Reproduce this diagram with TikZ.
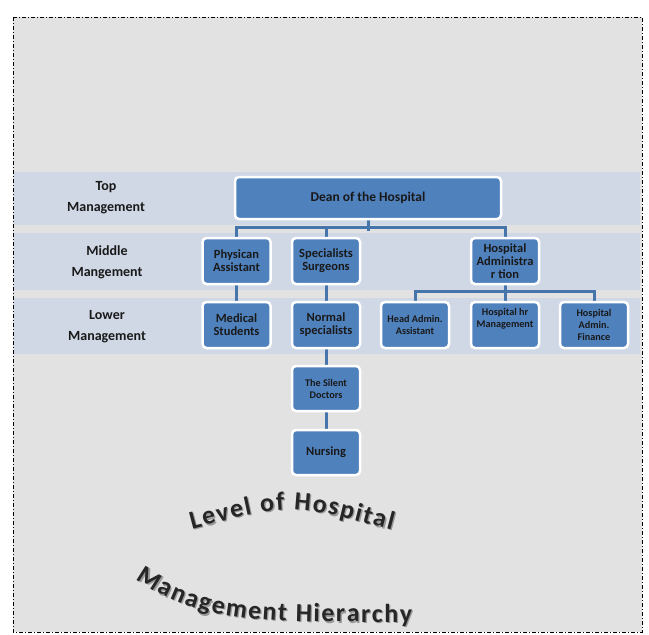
\documentclass[tikz,border=0pt]{standalone}
\usepackage{fontspec}
\setmainfont{Carlito}
\usetikzlibrary{backgrounds,decorations.text}
\definecolor{boxblue}{HTML}{4F81BD}
\definecolor{lineblue}{HTML}{4675AB}
\definecolor{bandblue}{HTML}{D0D8E6}
\definecolor{pagegray}{HTML}{E2E2E2}
\begin{document}
\begin{tikzpicture}[x=1pt,y=-1pt,
  box/.style={draw=white,line width=2.5pt,fill=boxblue,rounded corners=4pt,
    align=center,font=\fontsize{12.5}{13}\selectfont\bfseries,text=black!90,
    minimum width=68pt,minimum height=46pt,inner sep=1pt},
  small/.style={font=\fontsize{10.2}{12}\selectfont\bfseries},
  conn/.style={draw=lineblue,line width=3pt},
  band/.style={fill=bandblue,draw=none},
  lvl/.style={font=\fontsize{14}{21}\selectfont\bfseries,align=center,text=black!90}]
\useasboundingbox (0,0) rectangle (649,635);
\begin{scope}[on background layer]
\fill[pagegray] (13,17) rectangle (642,632);
\draw[line width=1pt,dash pattern=on 4pt off 2pt on 1pt off 2pt] (13,17) rectangle (642,632);
\fill[band] (14,172) rectangle (640,225);
\fill[band] (14,233) rectangle (640,290);
\fill[band] (14,298) rectangle (640,354);
\end{scope}
% levels
\node[lvl] (top) at (106,198) {Top\\Management};
\node[lvl] (mid) at (107,262) {Middle\\Mangement};
\node[lvl] (low) at (107,327) {Lower\\Management};
% boxes
\node[box,font=\fontsize{13.5}{14}\selectfont\bfseries,minimum width=266pt,minimum height=42pt] (dean) at (368,198) {Dean of the Hospital};
\node[box] (phys) at (236.5,261) {Physican\\Assistant};
\node[box] (spec) at (326,261) {Specialists\\Surgeons};
\node[box] (hadm) at (505,261) {Hospital\\Administra\\r tion};
\node[box] (med) at (236.5,325) {Medical\\Students};
\node[box] (norm) at (326,325) {Normal\\specialists};
\node[box,small] (head) at (415,325) {Head Admin.\\Assistant};
\node[box,small,text depth=14pt] (hhr) at (505,325) {Hospital hr\\Management};
\node[box,small] (hfin) at (594,325) {Hospital\\Admin.\\Finance};
\node[box,small,minimum height=45pt] (silent) at (326,388.5) {The Silent\\Doctors};
\node[box,minimum height=45pt] (nurs) at (326,452.5) {Nursing};
% connectors
\begin{scope}[on background layer]
\draw[conn] (dean.south) -- ++(0,11);
\draw[conn] (phys.north) -- ++(0,-9) -| (hadm.north);
\draw[conn] (spec.north) -- ++(0,-9);
\draw[conn] (hadm.south) -- (hhr.north);
\draw[conn] (head.north) -- ++(0,-9) -| (hfin.north);
\draw[conn] (phys.south) -- (med.north);
\draw[conn] (spec.south) -- (norm.north);
\draw[conn] (norm.south) -- (silent.north);
\draw[conn] (silent.south) -- (nurs.north);
\end{scope}
% curved titles
\foreach \dx/\col in {1.3/black!40,0/black!85}{
\path[decorate,decoration={text along path,text align=fit to path,text color=\col,
  text={|\fontsize{26}{26}\selectfont\bfseries|Level of Hospital}}]
  ([shift={(\dx,\dx)}]192,529) .. controls ([shift={(\dx,\dx)}]290,503) .. ([shift={(\dx,\dx)}]392,530);
\path[decorate,decoration={text along path,text align=fit to path,text color=\col,
  text={|\fontsize{26}{26}\selectfont\bfseries|Management Hierarchy}}]
  ([shift={(\dx,\dx)}]136,579) .. controls ([shift={(\dx,\dx)}]200,624) and ([shift={(\dx,\dx)}]260,622) .. ([shift={(\dx,\dx)}]412,622);
}
\end{tikzpicture}
\end{document}
